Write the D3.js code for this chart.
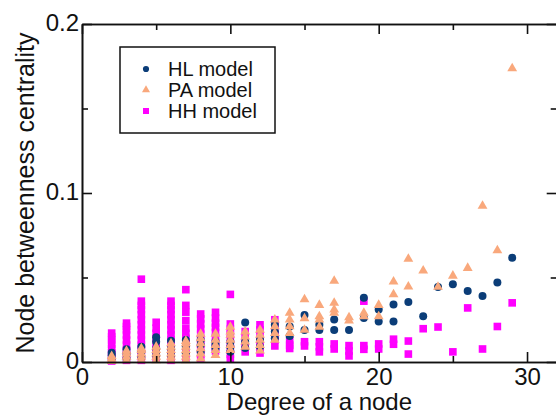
<!DOCTYPE html>
<html><head><meta charset="utf-8">
<script src="https://cdn.jsdelivr.net/npm/d3@7"></script>
<style>html,body{margin:0;padding:0;background:#fff;}svg{display:block;}</style>
</head><body>
<svg id="chart" width="556" height="416"></svg>
<script>
// ---- data: [degree, betweenness] ----
const hhData = [
 [2,0.0006],[2,0.003],[2,0.0055],[2,0.008],[2,0.0105],[2,0.013],[2,0.015],[2,0.0171],
 [3,0.001],[3,0.004],[3,0.007],[3,0.010],[3,0.013],[3,0.016],[3,0.019],[3,0.021],[3,0.023],
 [4,0.001],[4,0.004],[4,0.007],[4,0.010],[4,0.013],[4,0.016],[4,0.019],[4,0.022],[4,0.025],[4,0.028],[4,0.031],[4,0.0335],[4,0.036],[4,0.049],
 [5,0.002],[5,0.005],[5,0.008],[5,0.011],[5,0.014],[5,0.017],[5,0.020],[5,0.0235],
 [6,0.001],[6,0.004],[6,0.007],[6,0.010],[6,0.013],[6,0.016],[6,0.019],[6,0.022],[6,0.025],[6,0.028],[6,0.031],[6,0.0335],[6,0.036],
 [7,0.002],[7,0.005],[7,0.008],[7,0.011],[7,0.014],[7,0.017],[7,0.020],[7,0.0245],[7,0.0295],[7,0.0335],[7,0.0428],
 [8,0.002],[8,0.0045],[8,0.0075],[8,0.0105],[8,0.0135],[8,0.0165],[8,0.0195],[8,0.0225],[8,0.0255],[8,0.0284],
 [9,0.0065],[9,0.0085],[9,0.0115],[9,0.0145],[9,0.0175],[9,0.0205],[9,0.023],[9,0.026],[9,0.0294],
 [10,0.0018],[10,0.0045],[10,0.0075],[10,0.0105],[10,0.0135],[10,0.0165],[10,0.0195],[10,0.0225],[10,0.040],
 [11,0.006],[11,0.009],[11,0.012],[11,0.015],[11,0.018],
 [12,0.0053],[12,0.0075],[12,0.010],[12,0.013],[12,0.016],[12,0.019],[12,0.022],
 [13,0.0095],[13,0.013],[13,0.016],[13,0.019],[13,0.022],[13,0.025],
 [14,0.008],[14,0.010],[14,0.0126],
 [15,0.0095],[15,0.012],
 [16,0.006],[16,0.009],[16,0.012],
 [17,0.0077],[17,0.0107],
 [18,0.0036],[18,0.0065],[18,0.0097],
 [19,0.0075],[19,0.0097],[19,0.036],
 [20,0.0077],[20,0.0107],
 [21,0.0105],[21,0.0135],
 [22,0.0047],[22,0.0124],
 [23,0.0197],[24,0.0207],[25,0.006],[26,0.032],[27,0.0077],[28,0.021],[29,0.035]
];
const hlData = [
 [2,0.002],[2,0.004],[2,0.0055],
 [3,0.002],[3,0.005],[3,0.0075],
 [4,0.003],[4,0.006],[4,0.009],
 [5,0.004],[5,0.008],[5,0.012],[5,0.0146],
 [6,0.004],[6,0.008],[6,0.0126],
 [7,0.005],[7,0.009],[7,0.013],
 [8,0.006],[8,0.010],[8,0.013],
 [9,0.008],[9,0.010],[9,0.012],
 [10,0.006],[10,0.009],[10,0.012],
 [11,0.0083],[11,0.012],[11,0.0233],
 [12,0.009],[12,0.013],
 [13,0.014],[13,0.018],[13,0.022],
 [14,0.0154],[14,0.021],
 [15,0.019],[15,0.0278],
 [16,0.019],[16,0.022],
 [17,0.019],[17,0.0252],
 [18,0.019],
 [19,0.026],[19,0.038],
 [20,0.024],[20,0.031],
 [21,0.024],[21,0.034],
 [22,0.0355],[23,0.027],[24,0.0444],[25,0.046],[26,0.042],[27,0.039],[28,0.047],[29,0.0617]
];
const paData = [
 [2,0.0005],[2,0.002],[2,0.0035],
 [3,0.001],[3,0.003],[3,0.005],[3,0.0065],
 [4,0.001],[4,0.003],[4,0.005],[4,0.007],[4,0.008],
 [5,0.001],[5,0.003],[5,0.005],[5,0.007],[5,0.009],
 [6,0.001],[6,0.003],[6,0.005],[6,0.007],[6,0.009],[6,0.011],
 [7,0.001],[7,0.003],[7,0.005],[7,0.007],[7,0.009],[7,0.011],[7,0.0124],
 [8,0.002],[8,0.005],[8,0.008],[8,0.011],[8,0.014],[8,0.0166],
 [9,0.004],[9,0.007],[9,0.010],[9,0.013],[9,0.0166],
 [10,0.007],[10,0.010],[10,0.013],[10,0.016],[10,0.018],[10,0.0207],
 [11,0.009],[11,0.012],[11,0.015],[11,0.018],
 [12,0.0067],[12,0.010],[12,0.013],[12,0.016],[12,0.019],
 [13,0.013],[13,0.017],[13,0.021],[13,0.025],
 [14,0.017],[14,0.021],[14,0.025],[14,0.029],
 [15,0.019],[15,0.0258],[15,0.037],
 [16,0.0207],[16,0.025],[16,0.027],[16,0.0337],
 [17,0.029],[17,0.031],[17,0.035],[17,0.048],
 [18,0.0245],[18,0.0264],
 [19,0.027],[19,0.029],
 [20,0.027],[20,0.0337],
 [21,0.040],[21,0.0475],
 [22,0.0446],[22,0.061],
 [23,0.054],[24,0.0444],[25,0.051],[26,0.0556],[27,0.0923],[28,0.066],[29,0.1737]
];
const xMajorTicks = [0,10,20,30];
const xMinorTicks = [5,15,25];
const yMajorTicks = [0,0.1,0.2];
const yMinorTicks = [0.05,0.15];
const yTickLabels = ["0","0.1","0.2"];
const seriesNames = ["HL model","PA model","HH model"];
const seriesColors = ["#0b3d78","#f9a87c","#ff00ff"];

// ---- layout ----
const svg = d3.select("#chart");
const L = 82, R = 556.7, T = 24, B = 362;
const x = d3.scaleLinear().domain([0,32]).range([L,R]);
const y = d3.scaleLinear().domain([0,0.2]).range([B,T]);
const font = "Liberation Sans, Arial, Helvetica, sans-serif";

// ---- marks (HH below, HL, PA on top) ----
const sq = d3.symbol().type(d3.symbolSquare).size(58);
const tri = d3.symbol().type(d3.symbolTriangle).size(42);
svg.append("g").selectAll("path").data(hhData).join("path")
  .attr("d", sq).attr("transform", d => `translate(${x(d[0])},${y(d[1])})`)
  .attr("fill", seriesColors[2]);
svg.append("g").selectAll("circle").data(hlData).join("circle")
  .attr("cx", d => x(d[0])).attr("cy", d => y(d[1])).attr("r", 4)
  .attr("fill", seriesColors[0]);
svg.append("g").selectAll("path").data(paData).join("path")
  .attr("d", tri).attr("transform", d => `translate(${x(d[0])},${y(d[1])})`)
  .attr("fill", seriesColors[1]);

// ---- axes (inward ticks) ----
function styleAxis(g){
  g.selectAll(".domain").attr("stroke","#111").attr("stroke-width",1.6);
  g.selectAll(".tick line").attr("stroke","#111").attr("stroke-width",1.6);
  g.selectAll(".tick text").attr("fill","#111").style("font-family",font).style("font-size","24px");
}
const gb = svg.append("g").attr("transform",`translate(0,${B})`)
  .call(d3.axisBottom(x).tickValues(xMajorTicks).tickSizeInner(-10).tickSizeOuter(0).tickPadding(6).tickFormat(d3.format("d")));
styleAxis(gb);
const gbm = svg.append("g").attr("transform",`translate(0,${B})`)
  .call(d3.axisBottom(x).tickValues(xMinorTicks).tickSizeInner(-6).tickSizeOuter(0).tickFormat(""));
styleAxis(gbm);
const gt = svg.append("g").attr("transform",`translate(0,${T})`)
  .call(d3.axisTop(x).tickValues(xMajorTicks).tickSizeInner(-10).tickSizeOuter(0).tickFormat(""));
styleAxis(gt);
const gtm = svg.append("g").attr("transform",`translate(0,${T})`)
  .call(d3.axisTop(x).tickValues(xMinorTicks).tickSizeInner(-6).tickSizeOuter(0).tickFormat(""));
styleAxis(gtm);
const gl = svg.append("g").attr("transform",`translate(${L},0)`)
  .call(d3.axisLeft(y).tickValues(yMajorTicks).tickSizeInner(-10).tickSizeOuter(0).tickPadding(3).tickFormat((d,i)=>yTickLabels[i]));
styleAxis(gl);
gl.selectAll(".tick text").attr("dy","0.26em");
const glm = svg.append("g").attr("transform",`translate(${L},0)`)
  .call(d3.axisLeft(y).tickValues(yMinorTicks).tickSizeInner(-6).tickSizeOuter(0).tickFormat(""));
styleAxis(glm);
const gr = svg.append("g").attr("transform",`translate(${R},0)`)
  .call(d3.axisRight(y).tickValues(yMajorTicks).tickSizeInner(-10).tickSizeOuter(0).tickFormat(""));
styleAxis(gr);
const grm = svg.append("g").attr("transform",`translate(${R},0)`)
  .call(d3.axisRight(y).tickValues(yMinorTicks).tickSizeInner(-6).tickSizeOuter(0).tickFormat(""));
styleAxis(grm);

// ---- titles ----
svg.append("text").attr("x",(L+R)/2).attr("y",410).attr("text-anchor","middle")
  .style("font-family",font).style("font-size","24px").attr("fill","#111").text("Degree of a node");
svg.append("text").attr("transform",`translate(34,${(T+B)/2}) rotate(-90)`).attr("text-anchor","middle")
  .style("font-family",font).style("font-size","25px").attr("fill","#111").text("Node betweenness centrality");

// ---- legend ----
const lg = svg.append("g");
lg.append("rect").attr("x",120).attr("y",47).attr("width",155).attr("height",86)
  .attr("fill","#fff").attr("stroke","#111").attr("stroke-width",1.5);
const rowsY = [69,90,111];
const legSymbols = [d3.symbolCircle, d3.symbolTriangle, d3.symbolSquare];
const legSizes = [30, 28, 36];
seriesNames.forEach((name,i)=>{
  lg.append("path").attr("d", d3.symbol().type(legSymbols[i]).size(legSizes[i]))
    .attr("transform",`translate(146,${rowsY[i]})`).attr("fill",seriesColors[i]);
  lg.append("text").attr("x",168).attr("y",rowsY[i]).attr("dy","0.36em")
    .style("font-family",font).style("font-size","20px").attr("fill","#111").text(name);
});
</script>
</body></html>
